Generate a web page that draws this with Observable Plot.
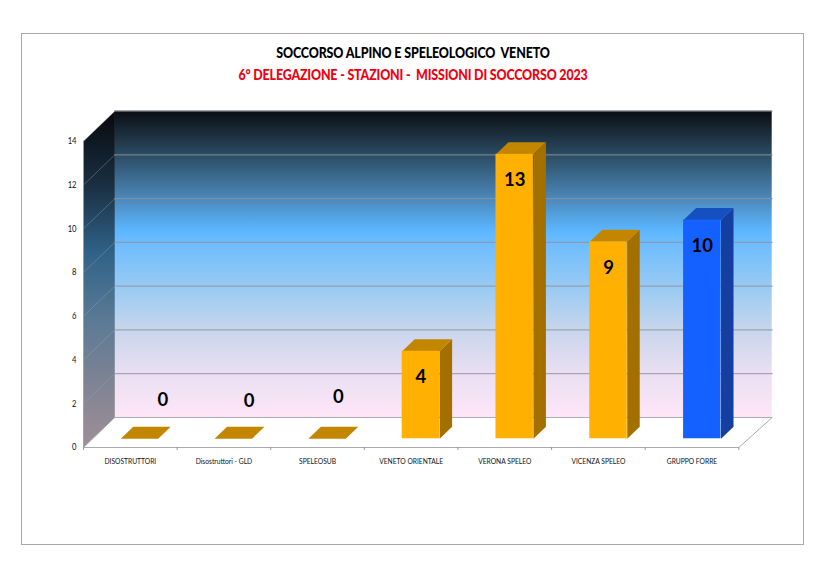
<!DOCTYPE html>
<html><head><meta charset="utf-8">
<script src="https://cdn.jsdelivr.net/npm/d3@7"></script>
<script src="https://cdn.jsdelivr.net/npm/@observablehq/plot@0.6"></script>
<style>
html,body{margin:0;padding:0;background:#fff}
#page{position:relative;width:828px;height:569px;overflow:hidden}
#box{position:absolute;left:21px;top:33px;width:781px;height:510px;border:1px solid #a9a9a9}
.t{position:absolute;left:-1.5px;width:828px;text-align:center;font-family:Lato,sans-serif;font-weight:900;white-space:pre;transform:scaleX(.83);transform-origin:center}
#t1{top:43px;font-size:15px;color:#000;letter-spacing:-.15px}
#t2{top:65px;font-size:15px;color:#f00010;letter-spacing:-.2px}
#chart{position:absolute;left:0;top:100px}
svg{display:block}
</style></head><body>
<div id="page"><div id="box"></div>
<div class="t" id="t1">SOCCORSO ALPINO E SPELEOLOGICO  VENETO</div>
<div class="t" id="t2">6° DELEGAZIONE - STAZIONI -  MISSIONI DI SOCCORSO 2023</div>
<div id="chart"></div></div>
<script>
const categories = ["DISOSTRUTTORI","Disostruttori - GLD","SPELEOSUB","VENETO ORIENTALE","VERONA SPELEO","VICENZA SPELEO","GRUPPO FORRE"];
const missions = [0,0,0,4,13,9,10];
const groups = ["o","o","o","o","o","o","b"];
const yTicks = [0,2,4,6,8,10,12,14];

// projection constants, in data units
const wallL = 31.3/93.66, wallR = 33.4/93.66, wallH = 30/21.86;
const barX = 0.398, barStep = 1.002, barW = 0.4, barBase = 0.4, sideX = 0.1335, sideY = 0.55;
const labelNudgeX = [0.25,0.17,0.12,0,0,0,0];
const labelNudgeY = [1.78,1.74,1.92,0,0,0,0];
const palette = {o:{front:"#ffb000",top:"#c28600",side:"#a37000"}, b:{front:"#1561ff",top:"#1450bf",side:"#143fa0"}};

const bars = missions.map((v,i)=>({i,v,cat:categories[i],g:groups[i],x1:i*barStep+barX,x2:i*barStep+barX+barW,y1:barBase,y2:barBase+v}));
const poly = (fn)=>bars.flatMap(b=>fn(b).map(([x,y])=>({x,y,id:b.i,g:b.g})));
const topPts = poly(b=>[[b.x1,b.y2],[b.x2,b.y2],[b.x2+sideX,b.y2+sideY],[b.x1+sideX,b.y2+sideY],[b.x1,b.y2]]);
const sidePts = poly(b=>b.v>0?[[b.x2,b.y1],[b.x2,b.y2],[b.x2+sideX,b.y2+sideY],[b.x2+sideX,b.y1+sideY],[b.x2,b.y1]]:[]);
const gridBack = yTicks.flatMap(v=>v?[{x:wallL,y:v+wallH,v},{x:7+wallR,y:v+wallH,v}]:[]);
const gridSide = yTicks.flatMap(v=>v?[{x:0,y:v,v},{x:wallL,y:v+wallH,v}]:[]);
const floorEdge = [{x:wallL,y:wallH},{x:7+wallR,y:wallH},{x:7,y:0},{x:0,y:0},{x:wallL,y:wallH}];
const leftWall = [{x:0,y:0},{x:wallL,y:wallH},{x:wallL,y:14+wallH},{x:0,y:14},{x:0,y:0}];

function defs(){
  const d = d3.create("svg:defs");
  const mk=(id,stops,v)=>{const g=d.append("linearGradient").attr("id",id).attr("x1",0).attr("y1",0).attr("x2",v).attr("y2",1);
    stops.forEach(([o,c])=>g.append("stop").attr("offset",o).attr("stop-color",c));};
  mk("wall",[[0,"#0a0d12"],[.14,"#2a4a60"],[.28,"#4a85b5"],[.39,"#5bb6ff"],[.43,"#6dbcff"],[.57,"#96caf3"],[.71,"#c6d5ec"],[.86,"#ebdff2"],[1,"#fde6f8"]],0);
  mk("side",[[0,"#07090d"],[.22,"#1a2f41"],[.42,"#2f6288"],[.62,"#5a7a95"],[.8,"#7d8393"],[1,"#a18e98"]],0);
  return d.node();
}
const barMarks = ["o","b"].flatMap(g=>[
  Plot.line(sidePts.filter(d=>d.g===g),{x:"x",y:"y",z:"id",fill:palette[g].side,stroke:"none"}),
  Plot.line(topPts.filter(d=>d.g===g),{x:"x",y:"y",z:"id",fill:palette[g].top,stroke:"none"}),
  Plot.rect(bars.filter(b=>b.g===g&&b.v>0),{x1:"x1",x2:"x2",y1:"y1",y2:"y2",fill:palette[g].front})
]);

const plot = Plot.plot({
  width:828,height:400,marginLeft:83,marginRight:56.3,marginTop:10.7,marginBottom:53,
  style:{background:"transparent",fontFamily:"Lato,sans-serif"},
  x:{type:"linear",domain:[0,7+wallR],axis:null},
  y:{type:"linear",domain:[0,14+wallH],axis:null},
  marks:[
    defs,
    Plot.rect([0],{x1:wallL,x2:7+wallR,y1:wallH,y2:14+wallH,fill:"url(#wall)"}),
    Plot.line(leftWall,{x:"x",y:"y",fill:"url(#side)",stroke:"none"}),
    Plot.line(gridBack,{x:"x",y:"y",z:"v",stroke:"#8f939c",strokeWidth:1.3,strokeOpacity:.75}),
    Plot.line(gridSide,{x:"x",y:"y",z:"v",stroke:"#a0a4a8",strokeWidth:.8,strokeOpacity:.5}),
    Plot.line(floorEdge,{x:"x",y:"y",stroke:"#a9adb2",strokeWidth:1}),
    ...barMarks,
    Plot.axisY({ticks:yTicks,tickSize:0,tickPadding:7,label:null,fontSize:9,color:"#111"}),
    Plot.ruleX([0],{y1:0,y2:14,stroke:"#9a9a9a",strokeWidth:.8}),
    Plot.axisX({ticks:d3.range(0,8),tickSize:3,tickFormat:()=>"",label:null,stroke:"#999"}),
    Plot.axisX({ticks:d3.range(7).map(i=>i+.5),tickSize:0,tickPadding:10,tickFormat:x=>categories[Math.floor(x)],label:null,fontSize:8.5,color:"#111"}),
    Plot.text(bars.filter(b=>b.v===0),{x:b=>b.i*barStep+barX+barW/2+labelNudgeX[b.i],y:b=>b.y2+labelNudgeY[b.i],text:b=>String(b.v),fontSize:18.5,fontWeight:700,fill:"#000",ariaLabel:"value"}),
    Plot.text(bars.filter(b=>b.v>0),{x:b=>b.i*barStep+barX+barW/2,y:"y2",dy:26,text:b=>String(b.v),fontSize:18.5,fontWeight:700,fill:"#000",ariaLabel:"value"})
  ]
});
// Condense the labels, as no narrow face is installed
const squeeze = (selector,k)=>d3.select(plot).selectAll(selector).each(function(){
  const s=d3.select(this); s.attr("transform",(s.attr("transform")||"")+` scale(${k},1)`);
});
squeeze('g[aria-label="x-axis tick label"] text',.79);
squeeze('g[aria-label="y-axis tick label"] text',.85);
squeeze('g[aria-label="value"] text',.76);
document.getElementById("chart").append(plot);
</script>
</body></html>
